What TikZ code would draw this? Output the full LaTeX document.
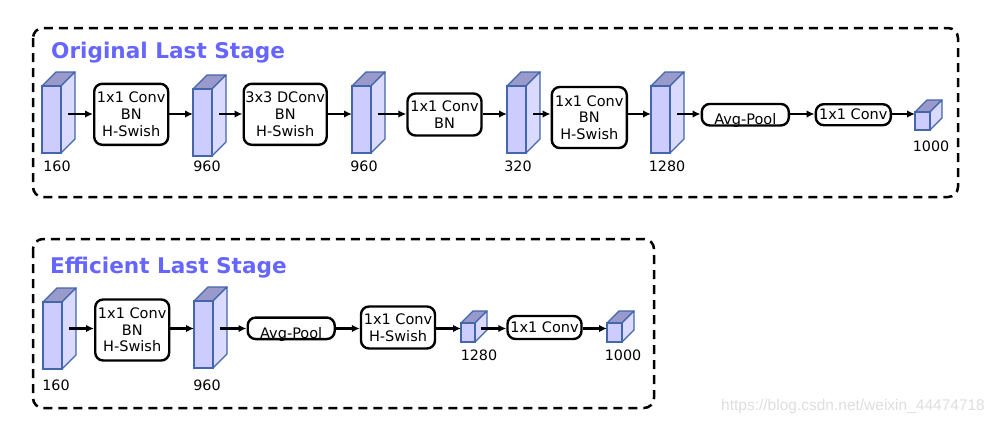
\documentclass[tikz,border=0pt]{standalone}
\usepackage{fontspec}
\setmainfont{DejaVu Sans}
\newfontfamily\wmfont{Liberation Sans}
\usetikzlibrary{arrows.meta}
\definecolor{frontc}{RGB}{204,204,255}
\definecolor{sidec}{RGB}{218,218,255}
\definecolor{topc}{RGB}{153,153,204}
\definecolor{edgec}{RGB}{68,102,170}
\definecolor{titlec}{RGB}{102,102,255}
\newcommand{\cubo}[9]{%
  \filldraw[cubeedge,fill=topc] (#2,#3) -- ({#2+#6},{#3-#6}) -- ({#2+#4+#6},{#3-#6}) -- ({#2+#4},#3) -- cycle;
  \filldraw[cubeedge,fill=sidec] ({#2+#4},#3) -- ({#2+#4+#6},{#3-#6}) -- ({#2+#4+#6},{#3+#5-#6}) -- ({#2+#4},{#3+#5}) -- cycle;
  \node[cubeface,minimum width=#4pt,minimum height=#5pt] (#1) at ({#2+#4/2},{#3+#5/2}) {};
  \coordinate (#1o) at ({#2+#4+#6/2},\rowy);
  \node[lab] (#1l) at (#8,#9) {#7};
}
\begin{document}
\begin{tikzpicture}[x=1pt,y=-1pt,
  cubeedge/.style={draw=edgec,line width=1.3pt,line join=round},
  cubeface/.style={draw=edgec,fill=frontc,line width=1.3pt,inner sep=0pt,outer sep=0pt},
  lab/.style={font=\fontsize{14.3}{16}\selectfont,inner sep=0pt},
  boxbase/.style={draw=black,fill=white,line width=2.4pt,rounded corners=8pt,
    inner sep=0pt,font=\fontsize{14.5}{16.7}\selectfont},
  opbox/.style={boxbase,align=center},
  poolbox/.style={boxbase,text height=20.5pt,text depth=1pt},
  arr/.style={line width=2.4pt,-{Latex[length=8pt,width=7.5pt]}},
  panel/.style={draw=black,line width=2.5pt,dash pattern=on 9pt off 6pt,rounded corners=10pt},
  ttl/.style={font=\fontsize{21.6}{24}\selectfont\bfseries,text=titlec,anchor=base west,inner sep=0pt}]
\useasboundingbox (0,0) rectangle (1001,423);

% panels
\draw[panel] (33,28) rectangle (958,197);
\draw[panel] (33,239) rectangle (654,408);
\node[ttl] (t1) at (51,58.5) {Original Last Stage};
\node[ttl] (t2) at (50,273.5) {Efficient Last Stage};

% ---------- top row ----------
\def\rowy{114}
\coordinate (rA) at (0,114);
\cubo{b1}{42}{86}{19}{67}{14}{160}{57}{166}
\cubo{b2}{193}{89}{19}{67}{14}{960}{207}{166}
\cubo{b3}{352}{86}{19}{67}{14}{960}{364}{166}
\cubo{b4}{507}{86}{19}{67}{14}{320}{518}{166}
\cubo{b5}{651}{86}{19}{67}{14}{1280}{667}{166}
\cubo{k1}{915}{112}{15}{18}{12}{1000}{931}{146}

\node[opbox,minimum width=74pt,minimum height=61pt] (B1) at (131.2,114.3) {1x1 Conv\\BN\\H-Swish};
\node[opbox,minimum width=83pt,minimum height=61pt] (B2) at (285.2,114.3) {3x3 DConv\\BN\\H-Swish};
\node[opbox,minimum width=74pt,minimum height=42pt] (B3) at (444.5,114.5) {1x1 Conv\\BN};
\node[opbox,minimum width=75pt,minimum height=61pt] (B4) at (589.3,117.5) {1x1 Conv\\BN\\H-Swish};
\node[poolbox,minimum width=87pt,minimum height=21pt] (B5) at (745.3,114.7) {Avg-Pool};
\node[opbox,minimum width=75pt,minimum height=21pt] (B6) at (853.3,114.7) {1x1 Conv};

\draw[arr] (b1o) -- (b1o -| B1.west);
\draw[arr] (B1.east |- rA) -- (b2.west |- rA);
\draw[arr] (b2o) -- (b2o -| B2.west);
\draw[arr] (B2.east |- rA) -- (b3.west |- rA);
\draw[arr] (b3o) -- (b3o -| B3.west);
\draw[arr] (B3.east |- rA) -- (b4.west |- rA);
\draw[arr] (b4o) -- (b4o -| B4.west);
\draw[arr] (B4.east |- rA) -- (b5.west |- rA);
\draw[arr] (b5o) -- (b5o -| B5.west);
\draw[arr] (B5.east |- rA) -- (B6.west |- rA);
\draw[arr] (B6.east |- rA) -- (k1.west |- rA);

% ---------- bottom row ----------
\def\rowy{328.5}
\coordinate (rB) at (0,328.5);
\cubo{c1}{43}{302}{19}{67}{14}{160}{56}{385}
\cubo{c2}{194}{301}{19}{67}{14}{960}{207}{385}
\cubo{c3}{461}{323}{14}{19}{12}{1280}{479}{355}
\cubo{c4}{607}{323}{15}{19}{12}{1000}{623}{355}

\node[opbox,minimum width=74pt,minimum height=61pt] (E1) at (132.2,330) {1x1 Conv\\BN\\H-Swish};
\node[poolbox,minimum width=87pt,minimum height=21pt] (E2) at (291.2,328.3) {Avg-Pool};
\node[opbox,minimum width=74pt,minimum height=42pt] (E3) at (398,327.5) {1x1 Conv\\H-Swish};
\node[opbox,minimum width=74pt,minimum height=23pt] (E4) at (544.5,327.5) {1x1 Conv};

\draw[arr] (c1o) -- (c1o -| E1.west);
\draw[arr] (E1.east |- rB) -- (c2.west |- rB);
\draw[arr] (c2o) -- (c2o -| E2.west);
\draw[arr] (E2.east |- rB) -- (E3.west |- rB);
\draw[arr] (E3.east |- rB) -- (c3.west |- rB);
\draw[arr] (c3o) -- (c3o -| E4.west);
\draw[arr] (E4.east |- rB) -- (c4.west |- rB);

% watermark
\node[anchor=base west,inner sep=0pt,text=black!13,font=\wmfont\fontsize{15.5}{17}\selectfont] (wm) at (721,410) {https://blog.csdn.net/weixin\_44474718};
\end{tikzpicture}
\end{document}
